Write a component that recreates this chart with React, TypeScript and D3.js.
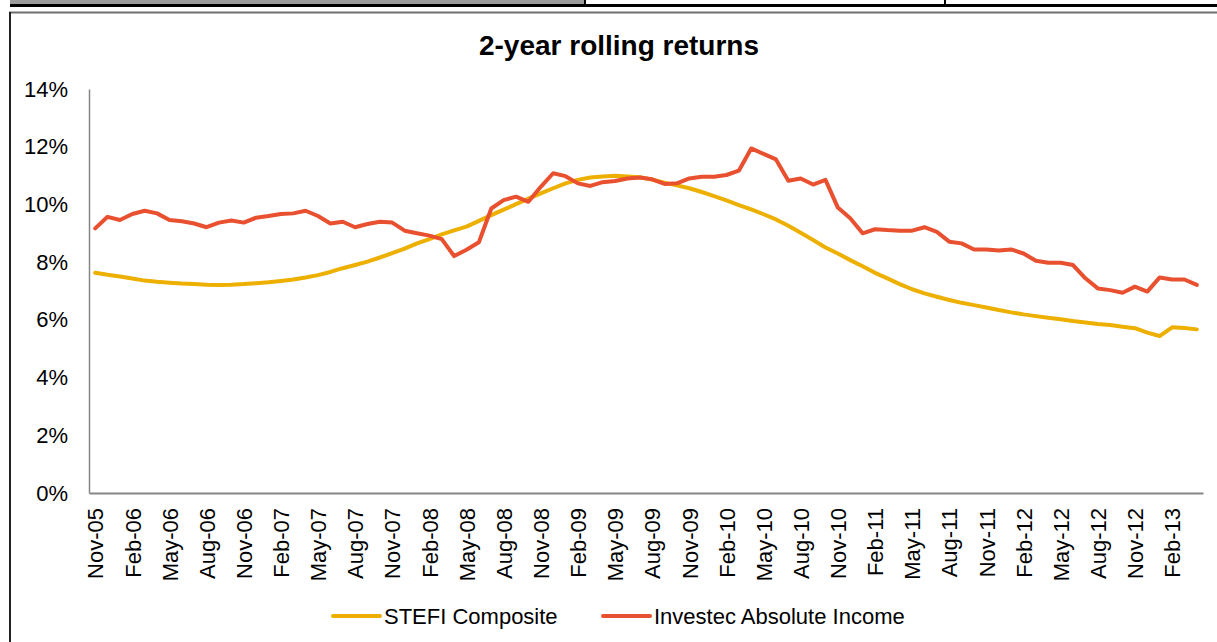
import React, { useRef, useEffect } from 'react';
import * as d3 from 'd3';

// monthly categories Nov-05 .. Apr-13
const months = d3.timeMonth.range(new Date(2005, 10, 1), new Date(2013, 4, 1));
const categories = months.map(d3.timeFormat('%b-%y'));
const tickLabels = categories.filter((_, i) => i % 3 === 0);
const yTicks = [0, 2, 4, 6, 8, 10, 12, 14];

// 2-year rolling returns, %
const stefi = [
  7.63, 7.56, 7.50, 7.43, 7.36, 7.32, 7.29, 7.26, 7.24, 7.22,
  7.21, 7.22, 7.24, 7.27, 7.30, 7.35, 7.40, 7.47, 7.55, 7.66,
  7.79, 7.90, 8.02, 8.16, 8.31, 8.47, 8.65, 8.80, 8.96, 9.10,
  9.23, 9.43, 9.63, 9.82, 10.01, 10.20, 10.38, 10.56, 10.73, 10.85,
  10.93, 10.97, 10.99, 10.97, 10.94, 10.86, 10.75, 10.66, 10.56, 10.43,
  10.29, 10.14, 9.98, 9.83, 9.66, 9.48, 9.26, 9.02, 8.77, 8.51,
  8.30, 8.07, 7.86, 7.63, 7.44, 7.24, 7.06, 6.92, 6.80, 6.69,
  6.59, 6.51, 6.43, 6.34, 6.26, 6.19, 6.13, 6.07, 6.02, 5.96,
  5.91, 5.86, 5.82, 5.76, 5.71, 5.56, 5.44, 5.74, 5.72, 5.67,
];
const investec = [
  9.17, 9.57, 9.46, 9.67, 9.78, 9.69, 9.46, 9.42, 9.34, 9.21,
  9.37, 9.44, 9.37, 9.54, 9.60, 9.67, 9.69, 9.78, 9.60, 9.34,
  9.40, 9.21, 9.32, 9.40, 9.37, 9.09, 9.00, 8.92, 8.80, 8.21,
  8.43, 8.69, 9.86, 10.15, 10.27, 10.09, 10.61, 11.08, 10.98, 10.73,
  10.64, 10.77, 10.81, 10.90, 10.93, 10.87, 10.71, 10.73, 10.90, 10.96,
  10.96, 11.02, 11.17, 11.94, 11.75, 11.56, 10.82, 10.90, 10.69, 10.85,
  9.89, 9.52, 9.00, 9.14, 9.11, 9.09, 9.09, 9.21, 9.05, 8.71,
  8.65, 8.44, 8.44, 8.40, 8.44, 8.30, 8.05, 7.98, 7.98, 7.90,
  7.44, 7.09, 7.03, 6.94, 7.15, 6.98, 7.47, 7.40, 7.40, 7.21,
];

const seriesNames = ['STEFI Composite', 'Investec Absolute Income'];
const seriesColors = ['#EDB000', '#E8502F'];

const W = 1217;
const H = 642;
const font = '"Liberation Sans", Arial, sans-serif';

const Chart = () => {
  const ref = useRef(null);

  useEffect(() => {
    const svg = d3.select(ref.current);
    svg.selectAll('*').remove();

    // sheet decoration above the chart
    svg.append('rect').attr('x', 10).attr('y', 0).attr('width', 575).attr('height', 4).attr('fill', '#9c9c9c');
    svg.append('rect').attr('x', 10).attr('y', 4).attr('width', W - 10).attr('height', 3).attr('fill', '#000');
    svg.append('rect').attr('x', 584).attr('y', 0).attr('width', 2).attr('height', 4).attr('fill', '#000');
    svg.append('rect').attr('x', 944).attr('y', 0).attr('width', 2).attr('height', 4).attr('fill', '#000');

    // chart frame
    svg.append('line').attr('x1', 9).attr('x2', W).attr('y1', 12.5).attr('y2', 12.5)
      .attr('stroke', '#6e6e6e').attr('stroke-width', 2);
    svg.append('line').attr('x1', 10).attr('x2', 10).attr('y1', 12).attr('y2', H)
      .attr('stroke', '#222').attr('stroke-width', 2);

    const x = d3.scalePoint().domain(categories).range([89, 1203]).padding(0.5);
    const y = d3.scaleLinear().domain([0, 14]).range([493, 89]);

    // title
    svg.append('text').attr('x', 619).attr('y', 55).attr('text-anchor', 'middle')
      .style('font-family', font).style('font-size', '28px').style('font-weight', 'bold')
      .text('2-year rolling returns');

    // y axis
    const yAxis = svg.append('g').attr('transform', 'translate(89,0)')
      .call(d3.axisLeft(y).tickValues(yTicks).tickSize(0).tickPadding(21).tickFormat(d => d + '%'));
    yAxis.select('.domain').attr('stroke', '#868686').attr('stroke-width', 1.5);
    yAxis.selectAll('text').style('font-family', font).style('font-size', '22px').attr('fill', '#000');

    // x axis
    const xAxis = svg.append('g').attr('transform', 'translate(0,493)')
      .call(d3.axisBottom(x).tickValues(tickLabels).tickSize(0).tickSizeOuter(0));
    xAxis.select('.domain').attr('stroke', '#868686').attr('stroke-width', 2);
    xAxis.selectAll('text')
      .attr('transform', 'rotate(-90)')
      .attr('x', -15).attr('y', 0).attr('dy', '0.35em')
      .attr('text-anchor', 'end')
      .style('font-family', font).style('font-size', '22px').attr('fill', '#000');

    // lines
    const line = d3.line().x((d, i) => x(categories[i])).y(d => y(d));
    [stefi, investec].forEach((s, k) => {
      svg.append('path').datum(s).attr('d', line).attr('fill', 'none')
        .attr('stroke', seriesColors[k]).attr('stroke-width', 4)
        .attr('stroke-linejoin', 'round').attr('stroke-linecap', 'round');
    });

    // legend
    const legendX = [333, 603];
    seriesNames.forEach((name, k) => {
      const g = svg.append('g').attr('transform', `translate(${legendX[k]},616)`);
      g.append('line').attr('x1', 0).attr('x2', 47).attr('stroke', seriesColors[k])
        .attr('stroke-width', 4).attr('stroke-linecap', 'round');
      g.append('text').attr('x', 51).attr('y', 8)
        .style('font-family', font).style('font-size', '22px').text(name);
    });
  }, []);

  return <svg ref={ref} width={W} height={H} style={{ position: 'absolute', left: 0, top: 0, background: '#fff' }} />;
};

const App = () => <Chart />;

export default App;
